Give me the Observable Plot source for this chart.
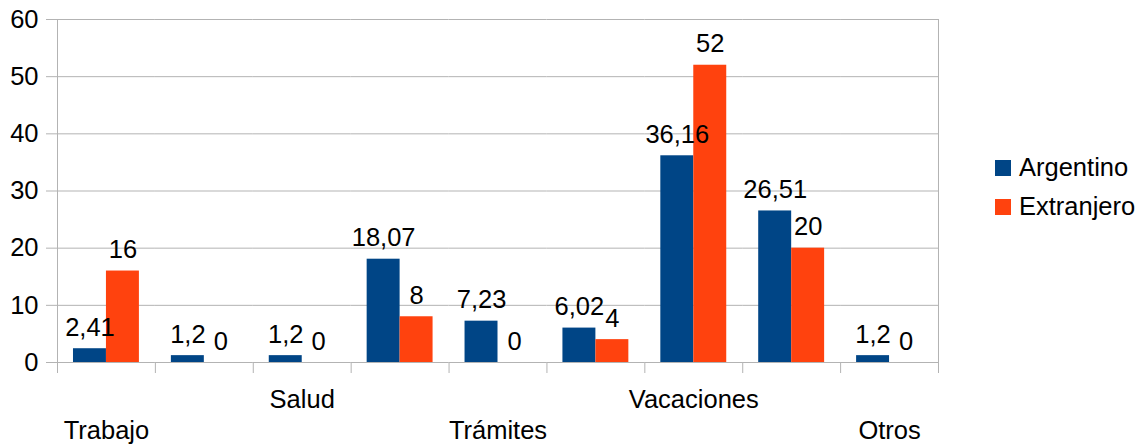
<!DOCTYPE html>
<html><head><meta charset="utf-8">
<script src="https://cdn.jsdelivr.net/npm/d3@7"></script>
<script src="https://cdn.jsdelivr.net/npm/@observablehq/plot@0.6"></script>
<style>
body{margin:0;background:#fff;}
#wrap{position:relative;width:1146px;height:446px;font-family:"Liberation Sans",Arial,sans-serif;}
#legend{position:absolute;left:995px;top:148px;font-size:25.5px;color:#000;}
.item{display:flex;align-items:center;height:39px;white-space:nowrap;}
.sw{width:16px;height:16px;margin-right:8px;flex:none;}
</style></head><body><div id="wrap"></div>
<script>
// ---- data ----
const categoryLabels = ["Trabajo", "", "Salud", "", "Trámites", "", "Vacaciones", "", "Otros"];
const series = ["Argentino", "Extranjero"];
const argentino = [2.41, 1.2, 1.2, 18.07, 7.23, 6.02, 36.16, 26.51, 1.2];
const extranjero = [16, 0, 0, 8, 0, 4, 52, 20, 0];
const yTicks = [0, 10, 20, 30, 40, 50, 60];
const colors = ["#004586", "#ff420e"];

// ---- build ----
const categories = categoryLabels.map((_, i) => i);
const data = categories.flatMap(i => [
  {cat: i, series: series[0], value: argentino[i]},
  {cat: i, series: series[1], value: extranjero[i]}
]);
const W = 1146, H = 446, mL = 57, mR = 208, mT = 19, mB = 84;
const fxStep = (W - mL - mR) / categories.length;
const fmt = v => String(v).replace(".", ",");
const font = 25.5;
const grid = "#b3b3b3";
const yMax = yTicks[yTicks.length - 1];
const rowLabel = rem => i => (i % 4 === rem) ? categoryLabels[i] : "";

const chart = Plot.plot({
  width: W, height: H,
  marginLeft: mL, marginRight: mR, marginTop: mT, marginBottom: mB,
  style: {fontFamily: '"Liberation Sans", Arial, sans-serif', fontSize: font + "px", color: "#000", background: "#fff"},
  fx: {domain: categories, padding: 0, round: false, label: null},
  x: {domain: series, paddingInner: 0, paddingOuter: 0.485, round: false, axis: null},
  y: {domain: [0, yMax], label: null},
  color: {domain: series, range: colors},
  marks: [
    Plot.gridY(yTicks, {stroke: grid, strokeOpacity: 1}),
    Plot.barY(data, {fx: "cat", x: "series", y: "value", fill: "series"}),
    Plot.text(data, {fx: "cat", x: "series", y: "value", text: d => fmt(d.value), dy: -13, lineAnchor: "bottom", fontSize: font, fill: "#000"}),
    Plot.axisY(yTicks, {tickSize: 11, tickPadding: 8, stroke: grid, fill: "#000", fontSize: font, tickFormat: d => String(d), label: null}),
    Plot.axisFx({anchor: "bottom", tickSize: 0, tickPadding: 27, tickFormat: rowLabel(2), fontSize: font, fill: "#000", label: null}),
    Plot.axisFx({anchor: "bottom", tickSize: 0, tickPadding: 58, tickFormat: rowLabel(0), fontSize: font, fill: "#000", label: null}),
    Plot.ruleX(categories, {fx: d => d, x: null, dx: -fxStep / 2, y1: 0, y2: 0, insetBottom: -11, stroke: grid}),
    Plot.ruleX([categories[0]], {fx: d => d, x: null, dx: -fxStep / 2, y1: yMax, y2: 0, insetBottom: -11, stroke: grid}),
    Plot.ruleX([categories[categories.length - 1]], {fx: d => d, x: null, dx: fxStep / 2, y1: yMax, y2: 0, insetBottom: -11, stroke: grid})
  ]
});
const wrap = document.getElementById("wrap");
wrap.appendChild(chart);
const legend = document.createElement("div");
legend.id = "legend";
series.forEach((s, k) => {
  const item = document.createElement("div");
  item.className = "item";
  const sw = document.createElement("span");
  sw.className = "sw";
  sw.style.background = colors[k];
  const t = document.createElement("span");
  t.textContent = s;
  item.appendChild(sw); item.appendChild(t);
  legend.appendChild(item);
});
wrap.appendChild(legend);
</script></body></html>
